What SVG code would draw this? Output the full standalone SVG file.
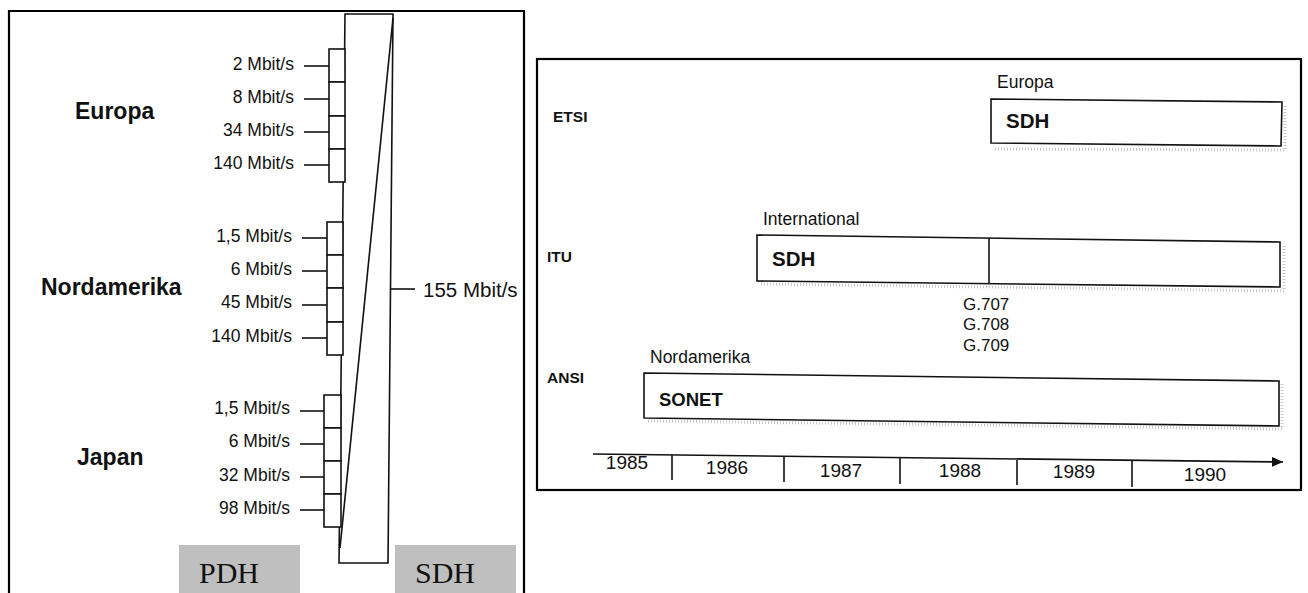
<svg xmlns="http://www.w3.org/2000/svg" width="1308" height="593" viewBox="0 0 1308 593">
<style>
text{font-family:"Liberation Sans",Arial,sans-serif;fill:#111}
.rate{font-size:17.5px;text-anchor:end}
.region{font-size:23px;font-weight:bold}
.serif{font-family:"Liberation Serif","Times New Roman",serif;font-size:30px}
.ln{stroke:#111;stroke-width:1.6;fill:none}
.box{stroke:#111;stroke-width:1.6;fill:#fff}
.frame{stroke:#000;stroke-width:2.2;fill:none}
.gray{fill:#bfbfbf}
.org{font-size:15.5px;font-weight:bold}
.sdh{font-size:20.5px;font-weight:bold}
.lab{font-size:17.5px}
.yr{font-size:19px;text-anchor:middle}
.g{font-size:17px}
.shadow{stroke:#c8c8c8;stroke-width:3;stroke-dasharray:1 2;fill:none}
</style>
<defs>
<marker id="arr" markerWidth="12" markerHeight="12" refX="11" refY="5" orient="auto" markerUnits="userSpaceOnUse">
<path d="M0,0 L11,5 L0,10 Z" fill="#111"/>
</marker>
</defs>

<!-- Left panel -->
<g id="left-frame">
<path class="frame" d="M9,593 V11 H524 V593"/>
</g>

<g id="sdh-column">
<polygon class="box" points="345,14 393,14 388,563 339,563"/>
</g>

<g id="europa">
<text class="region" x="75" y="119">Europa</text>
<rect class="box" x="329" y="49" width="16" height="33"/>
<rect class="box" x="329" y="82" width="16" height="34"/>
<rect class="box" x="329" y="116" width="16" height="33"/>
<rect class="box" x="329" y="149" width="16" height="33"/>
<text class="rate" x="294" y="70">2 Mbit/s</text>
<text class="rate" x="294" y="103">8 Mbit/s</text>
<text class="rate" x="294" y="136">34 Mbit/s</text>
<text class="rate" x="294" y="169">140 Mbit/s</text>
</g>

<g id="nordamerika">
<text class="region" x="41" y="295">Nordamerika</text>
<rect class="box" x="327" y="222" width="16" height="33"/>
<rect class="box" x="327" y="255" width="16" height="33"/>
<rect class="box" x="327" y="288" width="16" height="34"/>
<rect class="box" x="327" y="322" width="16" height="33"/>
<text class="rate" x="292" y="242">1,5 Mbit/s</text>
<text class="rate" x="292" y="275">6 Mbit/s</text>
<text class="rate" x="292" y="308">45 Mbit/s</text>
<text class="rate" x="292" y="342">140 Mbit/s</text>
</g>

<g id="japan">
<text class="region" x="77" y="465">Japan</text>
<rect class="box" x="324" y="395" width="17" height="33"/>
<rect class="box" x="324" y="428" width="17" height="33"/>
<rect class="box" x="324" y="461" width="17" height="33"/>
<rect class="box" x="324" y="494" width="17" height="33"/>
<text class="rate" x="290" y="414">1,5 Mbit/s</text>
<text class="rate" x="290" y="447">6 Mbit/s</text>
<text class="rate" x="290" y="481">32 Mbit/s</text>
<text class="rate" x="290" y="514">98 Mbit/s</text>
</g>

<g id="out-155">
<text x="423" y="297" style="font-size:20.5px">155 Mbit/s</text>
</g>

<g id="pdh-label">
<rect class="gray" x="179" y="545" width="121" height="48"/>
<text class="serif" x="199" y="583">PDH</text>
</g>
<g id="sdh-label">
<rect class="gray" x="395" y="545" width="121" height="48"/>
<text class="serif" x="415" y="583">SDH</text>
</g>

<g id="connectors-left">
<line class="ln" x1="393" y1="18" x2="340" y2="548"/>
<line class="ln" x1="304" y1="66" x2="329" y2="66"/>
<line class="ln" x1="304" y1="99" x2="329" y2="99"/>
<line class="ln" x1="304" y1="132" x2="329" y2="132"/>
<line class="ln" x1="304" y1="165" x2="329" y2="165"/>
<line class="ln" x1="302" y1="238" x2="327" y2="238"/>
<line class="ln" x1="302" y1="271" x2="327" y2="271"/>
<line class="ln" x1="302" y1="305" x2="327" y2="305"/>
<line class="ln" x1="302" y1="338" x2="327" y2="338"/>
<line class="ln" x1="300" y1="411" x2="324" y2="411"/>
<line class="ln" x1="300" y1="444" x2="324" y2="444"/>
<line class="ln" x1="300" y1="477" x2="324" y2="477"/>
<line class="ln" x1="300" y1="510" x2="324" y2="510"/>
<line class="ln" x1="391" y1="289" x2="415" y2="289"/>
</g>

<!-- Right panel -->
<g id="right-frame">
<rect class="frame" x="537" y="59" width="764" height="431"/>
</g>

<g id="row-etsi">
<text class="org" x="553" y="122">ETSI</text>
<text class="lab" x="997" y="88">Europa</text>
<path class="shadow" d="M995,149 L1285,150 L1285,104"/>
<polygon class="box" points="991,99 1282,102 1281,146 991,143"/>
<text class="sdh" x="1006" y="128">SDH</text>
</g>

<g id="row-itu">
<text class="org" x="547" y="262">ITU</text>
<text class="lab" x="763" y="225">International</text>
<path class="shadow" d="M761,284 L1284,291 L1284,244"/>
<polygon class="box" points="757,235 1280,242 1280,287 757,281"/>
<line class="ln" x1="989" y1="238" x2="989" y2="283"/>
<text class="sdh" x="772" y="266">SDH</text>
<text class="g" x="963" y="310">G.707</text>
<text class="g" x="963" y="330">G.708</text>
<text class="g" x="963" y="351">G.709</text>
</g>

<g id="row-ansi">
<text class="org" x="547" y="383">ANSI</text>
<text class="lab" x="650" y="363">Nordamerika</text>
<path class="shadow" d="M648,421 L1282,429 L1282,383"/>
<polygon class="box" points="644,373 1279,381 1279,426 644,418"/>
<text x="659" y="406" style="font-size:18.5px;font-weight:bold">SONET</text>
</g>

<g id="timeline">
<line class="ln" x1="593" y1="454" x2="1283" y2="462" marker-end="url(#arr)"/>
<line class="ln" x1="672" y1="455" x2="672" y2="480"/>
<line class="ln" x1="784" y1="457" x2="784" y2="482"/>
<line class="ln" x1="900" y1="458" x2="900" y2="484"/>
<line class="ln" x1="1017" y1="460" x2="1017" y2="485"/>
<line class="ln" x1="1132" y1="461" x2="1132" y2="487"/>
<text class="yr" x="627" y="469">1985</text>
<text class="yr" x="727" y="474">1986</text>
<text class="yr" x="841" y="477">1987</text>
<text class="yr" x="960" y="477">1988</text>
<text class="yr" x="1074" y="478">1989</text>
<text class="yr" x="1205" y="481">1990</text>
</g>
</svg>
